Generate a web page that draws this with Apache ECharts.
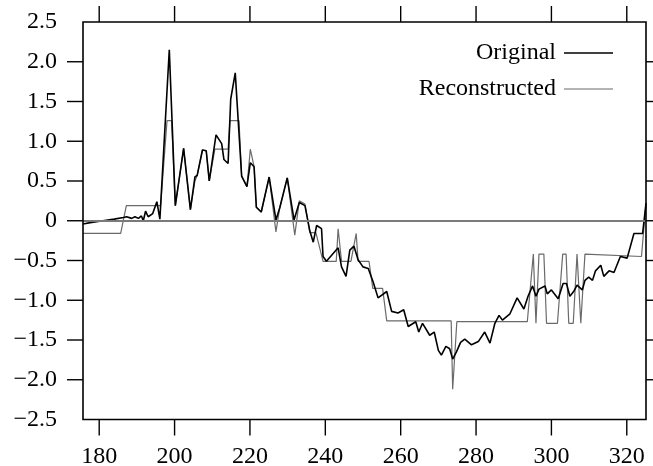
<!DOCTYPE html>
<html><head><meta charset="utf-8">
<script src="https://cdn.jsdelivr.net/npm/echarts@6/dist/echarts.min.js"></script>
<style>html,body{margin:0;padding:0;background:#fff}#c{width:653px;height:466px}</style>
</head><body><div id="c"></div>
<script>
const xTicks = [180, 200, 220, 240, 260, 280, 300, 320];
const yTicks = [-2, -1.5, -1, -0.5, 0, 0.5, 1, 1.5, 2];
const yLabels = [-2.5, -2, -1.5, -1, -0.5, 0, 0.5, 1, 1.5, 2, 2.5];
const seriesNames = ['Original', 'Reconstructed'];

const origX = [175.7, 178, 181, 184, 186.4, 187.3, 188.6, 189.5, 190.4, 191.2, 191.7, 192.3, 193.0, 194.2, 195.3, 196.1,
  198.6, 200.2, 202.4, 204.2, 205.4, 206.0, 207.4, 208.4, 209.2, 211.0, 212.5, 213.1, 214.2, 214.9, 216.1,
  217.8, 219.2, 220.1, 221.1, 221.7, 223.0, 225.1, 226.9, 227.9, 229.9, 231.7, 233.1, 234.6, 235.9, 236.8,
  237.7, 239.0, 239.4, 240.3, 243.4, 244.3, 245.5, 246.5, 247.6, 248.7, 250.0, 251.4, 252.7, 254.0, 256.3,
  257.6, 259.3, 260.8, 262.0, 264.0, 264.8, 265.8, 267.7, 268.9, 270.0, 270.8, 272.0, 273.0, 273.8, 274.8,
  275.9, 277.0, 278.8, 280.6, 282.3, 283.7, 285.0, 286.1, 287.0, 289.0, 290.9, 292.7, 293.8, 295.0, 295.9,
  296.7, 298.3, 298.9, 300.0, 301.8, 303.1, 304.0, 304.9, 305.9, 306.8, 308.2, 308.9, 309.9, 310.9, 311.7,
  313.1, 313.9, 315.3, 316.6, 318.3, 320.1, 321.9, 324.2, 325.1];
const origY = [-0.04, -0.02, 0.00, 0.02, 0.04, 0.05, 0.03, 0.05, 0.03, 0.06, 0.00, 0.12, 0.05, 0.09, 0.24, 0.02,
  2.15, 0.19, 0.91, 0.14, 0.55, 0.57, 0.89, 0.88, 0.50, 1.08, 0.97, 0.77, 0.72, 1.53, 1.86,
  0.56, 0.43, 0.73, 0.68, 0.17, 0.11, 0.55, 0.01, 0.16, 0.54, 0.01, 0.23, 0.19, -0.13, -0.27,
  -0.06, -0.10, -0.45, -0.51, -0.34, -0.58, -0.70, -0.37, -0.32, -0.49, -0.58, -0.60, -0.77, -0.97, -0.89,
  -1.14, -1.16, -1.12, -1.33, -1.27, -1.40, -1.29, -1.44, -1.40, -1.63, -1.69, -1.58, -1.61, -1.74, -1.65,
  -1.53, -1.49, -1.56, -1.52, -1.40, -1.54, -1.29, -1.19, -1.25, -1.17, -0.97, -1.11, -0.95, -0.82, -0.95,
  -0.86, -0.82, -0.92, -0.87, -0.98, -0.79, -0.79, -0.95, -0.89, -0.81, -0.87, -0.75, -0.71, -0.75, -0.63,
  -0.56, -0.70, -0.63, -0.65, -0.45, -0.47, -0.16, -0.16, 0.22];

const reconX = [175.7, 185.7, 187.2, 196.3, 198.0, 199.2, 200.2, 202.4, 204.2, 205.4, 206.0, 207.4, 208.4, 209.2,
  210.7, 214.2, 214.7, 217.1, 217.8, 219.2, 220.1, 221.1, 221.7, 223.0, 225.1, 226.9, 227.9, 229.9, 231.9,
  233.1, 234.6, 235.9, 237.5, 239.4, 242.9, 243.4, 244.3, 246.8, 248.2, 248.7, 251.6, 252.6, 255.2, 256.3,
  273.4, 273.8, 274.9, 293.6, 295.2, 295.9, 296.7, 298.0, 298.7, 301.6, 303.0, 303.9, 304.6, 305.8, 306.8,
  307.8, 308.9, 323.9, 325.1];
const reconY = [-0.16, -0.16, 0.19, 0.19, 1.26, 1.26, 0.19, 0.91, 0.14, 0.50, 0.57, 0.89, 0.88, 0.50,
  0.90, 0.90, 1.26, 1.26, 0.56, 0.43, 0.90, 0.68, 0.17, 0.11, 0.55, -0.14, 0.16, 0.54, -0.18,
  0.25, 0.21, -0.15, -0.15, -0.51, -0.51, -0.10, -0.51, -0.51, -0.16, -0.51, -0.51, -0.85, -0.85, -1.26,
  -1.26, -2.12, -1.27, -1.27, -0.42, -1.29, -0.42, -0.42, -1.29, -1.29, -0.42, -0.42, -1.29, -1.29, -0.42,
  -1.29, -0.42, -0.45, 0.22];

const FONT = 'Liberation Serif';
const FS = 24;
const TICK = 16;
const XMIN = 175.7, XMAX = 325.1, YMIN = -2.5, YMAX = 2.5;

// Layout: the plotting box, and a grid enlarged around it so that the ticks fall inside the grid.
const W = 653, H = 466;
const BOX = {l: 83, r: 646, t: 22, b: 419.5};
const PAD = 17;
const sx = (BOX.r - BOX.l) / (XMAX - XMIN);
const sy = (BOX.b - BOX.t) / (YMAX - YMIN);
const xLo = XMIN - PAD / sx, xHi = XMAX + (W - BOX.r) / sx;
const yLo = YMIN - PAD / sy, yHi = YMAX + PAD / sy;

const zip = (xs, ys) => xs.map((x, i) => [x, ys[i]]);
const fmtY = v => v === 0 ? '0' : (v < 0 ? '\u2212' : '') + Math.abs(v).toFixed(1);
const lineSt = w => ({stroke: '#000', lineWidth: w, fill: 'none'});

const chart = echarts.init(document.getElementById('c'), null, {renderer: 'canvas'});
const legendBase = {right: 40, orient: 'vertical', align: 'right', padding: 0, itemWidth: 49, itemGap: 0,
  textStyle: {fontFamily: FONT, fontSize: FS, color: '#000', padding: [0, 3, 0, 0]}};

chart.setOption({
  animation: false,
  backgroundColor: '#fff',
  grid: {left: BOX.l - PAD, right: 0, top: BOX.t - PAD, bottom: H - (BOX.b + PAD), outerBoundsMode: 'none'},
  legend: [
    Object.assign({}, legendBase, {top: 41, itemHeight: 1.6,
      data: [{name: seriesNames[0], icon: 'rect', itemStyle: {color: '#000'}}]}),
    Object.assign({}, legendBase, {top: 77, itemHeight: 1.2,
      data: [{name: seriesNames[1], icon: 'rect', itemStyle: {color: '#6a6a6a'}}]})
  ],
  xAxis: {type: 'value', position: 'bottom', min: xLo, max: xHi, splitLine: {show: false},
    axisLine: {show: false, onZero: false}, axisTick: {show: false},
    axisLabel: {show: true, margin: 8, customValues: xTicks, fontFamily: FONT, fontSize: FS, color: '#000'}},
  yAxis: {type: 'value', position: 'left', min: yLo, max: yHi, splitLine: {show: false},
    axisLine: {show: false, onZero: false}, axisTick: {show: false},
    axisLabel: {show: true, margin: 9, customValues: yLabels, formatter: fmtY, fontFamily: FONT, fontSize: FS, color: '#000'}},
  series: [
    {name: seriesNames[1], type: 'line', data: zip(reconX, reconY),
     showSymbol: false, symbol: 'none', color: '#6a6a6a', lineStyle: {color: '#6a6a6a', width: 1.2},
     markLine: {silent: true, symbol: 'none', label: {show: false},
       lineStyle: {color: '#7a7a7a', width: 2, type: 'solid'},
       data: [[{coord: [XMIN, 0]}, {coord: [XMAX, 0]}]]}},
    {name: seriesNames[0], type: 'line', data: zip(origX, origY),
     showSymbol: false, symbol: 'none', color: '#000', lineStyle: {color: '#000', width: 1.6}},
    {type: 'custom', silent: true, z: 10, data: [[XMIN, YMIN]],
     renderItem: (params, api) => {
       const a = api.coord([XMIN, YMAX]), b = api.coord([XMAX, YMIN]);
       return {type: 'rect', shape: {x: a[0], y: a[1], width: b[0] - a[0], height: b[1] - a[1]}, style: lineSt(1.6)};
     }},
    {type: 'custom', silent: true, z: 10, data: xTicks.map(v => [v, 0]),
     renderItem: (params, api) => {
       const b = api.coord([api.value(0), YMIN]);
       const t = api.coord([api.value(0), YMAX]);
       return {type: 'group', children: [
         {type: 'line', shape: {x1: b[0], y1: b[1], x2: b[0], y2: b[1] + TICK}, style: lineSt(1.4)},
         {type: 'line', shape: {x1: t[0], y1: t[1], x2: t[0], y2: t[1] - TICK}, style: lineSt(1.4)}
       ]};
     }},
    {type: 'custom', silent: true, z: 10, data: yTicks.map(v => [XMIN, v]),
     renderItem: (params, api) => {
       const l = api.coord([XMIN, api.value(1)]);
       const r = api.coord([XMAX, api.value(1)]);
       return {type: 'group', children: [
         {type: 'line', shape: {x1: l[0], y1: l[1], x2: l[0] - TICK, y2: l[1]}, style: lineSt(1.4)},
         {type: 'line', shape: {x1: r[0], y1: r[1], x2: r[0] + TICK, y2: r[1]}, style: lineSt(1.4)}
       ]};
     }}
  ]
});
</script></body></html>
